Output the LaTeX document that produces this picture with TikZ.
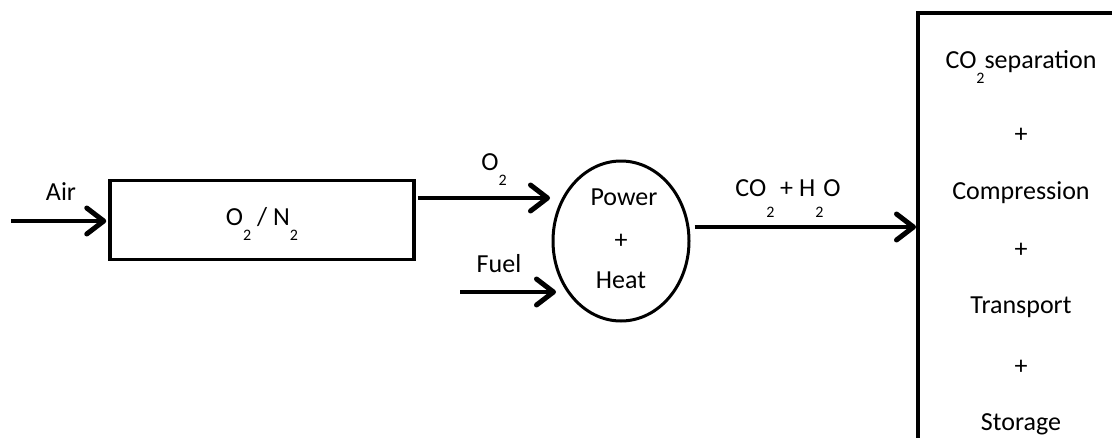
\documentclass[tikz,border=0pt]{standalone}
\usepackage{fontspec}
\setmainfont{Carlito}
\usetikzlibrary{arrows.meta,shapes.geometric}
\newcommand{\lowsub}[2][15pt]{\raisebox{-#1}{\fontsize{16}{16}\selectfont #2}}

\begin{document}
\begin{tikzpicture}[x=1pt, y=-1pt, every node/.style={font=\fontsize{26}{30}\selectfont, inner sep=0pt},
	flow/.style={line width=4pt, -{Straight Barb[length=17pt, width=26pt, line width=5pt, round]}},
	unit/.style={draw, line width=3.5pt}]
	\useasboundingbox (0,0) rectangle (1112,437);
	% air separation unit
	\node[unit, minimum width=304pt, minimum height=79pt] (asu) at (262,220) {};
	\node[anchor=base] (asutext) at (262,225) {O\lowsub{2} / N\lowsub{2}};
	% combustion
	\node[ellipse, draw, line width=3pt, minimum width=136pt, minimum height=160pt] (burner) at (621,241) {};
	\node[anchor=base] (power) at (624,205) {Power};
	\node[anchor=base] (plus) at (621,248) {+};
	\node[anchor=base] (heat) at (621,288) {Heat};
	% capture chain
	\coordinate (ccsbl) at (918,445);
	\coordinate (ccstr) at (1120,13);
	\draw[line width=3.5pt] (ccsbl) |- (ccstr);
	\foreach \y/\txt/\name in {68/{CO\lowsub{2}separation}/sep, 142/+/p1, 199/Compression/comp, 257/+/p2, 313/Transport/trans, 374/+/p3, 430/Storage/stor} {
		\node[anchor=base] (\name) at (1021,\y) {\txt};
	}
	% streams
	\coordinate (airin) at (11,221);
	\coordinate (o2in) at (550,198);
	\coordinate (fuelin) at (460,292);
	\coordinate (fuelend) at (556,292);
	\coordinate (co2end) at (916,227);
	\draw[flow] (airin) -- ([xshift=-2pt]airin -| asu.west);
	\draw[flow, shorten <=2pt] (asu.east |- o2in) -- (o2in);
	\draw[flow] (fuelin) -- (fuelend);
	\draw[flow, shorten <=4pt] (burner.east |- co2end) -- (co2end);
	\node[anchor=base] (airlbl) at (61,200) {Air};
	\node[anchor=base] (o2lbl) at (494,170) {O\lowsub{2}};
	\node[anchor=base] (fuellbl) at (499,272) {Fuel};
	\node[anchor=base] (co2lbl) at (788,196) {CO\lowsub[21pt]{2} + H\lowsub[21pt]{2}O};
\end{tikzpicture}
\end{document}
